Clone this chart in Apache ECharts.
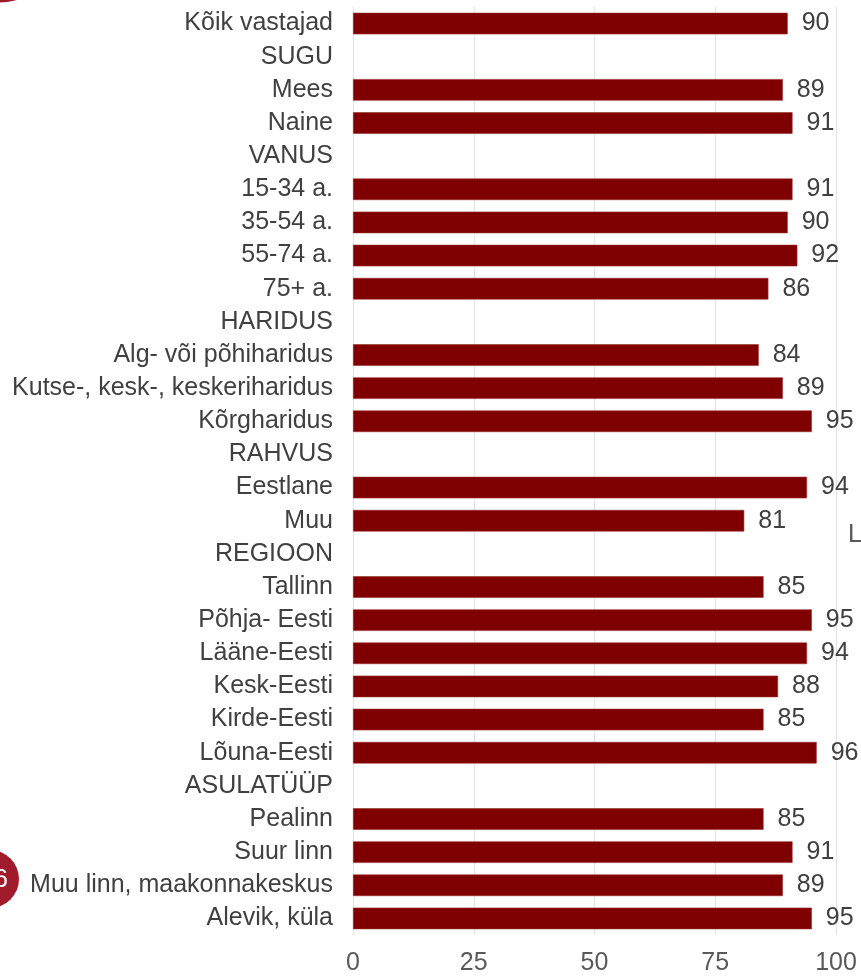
<!DOCTYPE html>
<html>
<head>
<meta charset="utf-8">
<style>
  html, body { margin: 0; padding: 0; background: #fff; }
  #chart { width: 861px; height: 976px; }
</style>
<script src="https://cdn.jsdelivr.net/npm/echarts@6/dist/echarts.min.js"></script>
</head>
<body>
<div id="chart"></div>
<script>
// categories, top to bottom (empty value = group heading)
const categories = [
  'Kõik vastajad', 'SUGU', 'Mees', 'Naine', 'VANUS',
  '15-34 a.', '35-54 a.', '55-74 a.', '75+ a.', 'HARIDUS',
  'Alg- või põhiharidus', 'Kutse-, kesk-, keskeriharidus', 'Kõrgharidus', 'RAHVUS',
  'Eestlane', 'Muu', 'REGIOON',
  'Tallinn', 'Põhja- Eesti', 'Lääne-Eesti', 'Kesk-Eesti', 'Kirde-Eesti', 'Lõuna-Eesti', 'ASULATÜÜP',
  'Pealinn', 'Suur linn', 'Muu linn, maakonnakeskus', 'Alevik, küla'
];
const values = [
  90, null, 89, 91, null,
  91, 90, 92, 86, null,
  84, 89, 95, null,
  94, 81, null,
  85, 95, 94, 88, 85, 96, null,
  85, 91, 89, 95
];
const xTicks = [0, 25, 50, 75, 100];

const textColor = '#404040';
const font = 'Liberation Sans, Arial, sans-serif';

const chart = echarts.init(document.getElementById('chart'));

const getOption = () => {
    return {
        animation: false,
        grid: {
            left: 353,
            right: 25,
            top: 7,
            bottom: 41
        },
        xAxis: {
            type: 'value',
            min: xTicks[0],
            max: xTicks[xTicks.length - 1],
            interval: 25,
            axisLine: { show: false },
            axisTick: { show: false },
            splitLine: { show: true, lineStyle: { color: '#e3e3e3', width: 1 } },
            axisLabel: {
                color: '#595959',
                fontFamily: font,
                fontSize: 25,
                margin: 16
            }
        },
        yAxis: {
            type: 'category',
            inverse: true,
            data: categories,
            axisLine: { show: false },
            axisTick: { show: false },
            axisLabel: {
                color: textColor,
                fontFamily: font,
                fontSize: 25,
                margin: 20
            }
        },
        series: [
            {
                type: 'bar',
                data: values,
                barWidth: '65%',
                itemStyle: {
                    color: '#7f0000',
                    borderColor: '#9c2a2a',
                    borderWidth: 0.6
                },
                label: {
                    show: true,
                    position: 'right',
                    distance: 14,
                    color: textColor,
                    fontFamily: font,
                    fontSize: 25
                }
            }
        ],
        // cut-off slide decorations around the chart
        graphic: [
            {
                type: 'circle',
                shape: { cx: -10, cy: -120, r: 123 },
                style: { fill: '#a01c2c' }
            },
            {
                type: 'circle',
                shape: { cx: -10, cy: 879, r: 29 },
                style: { fill: '#a01c2c' }
            },
            {
                type: 'text',
                x: 1,
                y: 880,
                style: {
                    text: '6',
                    fill: '#fff',
                    font: '25px Liberation Sans',
                    textAlign: 'center',
                    textVerticalAlign: 'middle'
                }
            },
            {
                type: 'text',
                x: 848,
                y: 535,
                style: {
                    text: 'L',
                    fill: '#595959',
                    font: '25px Liberation Sans',
                    textAlign: 'left',
                    textVerticalAlign: 'middle'
                }
            }
        ]
    };
};

chart.setOption(getOption());
</script>
</body>
</html>
